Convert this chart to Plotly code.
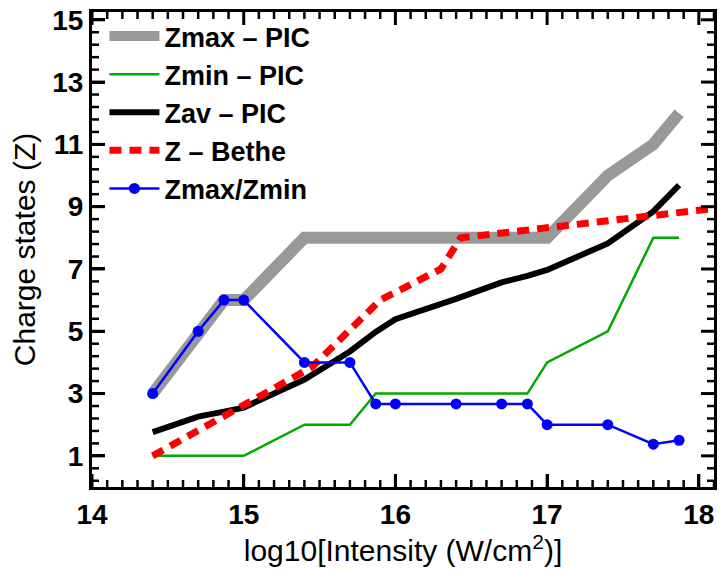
import plotly.graph_objects as go

# log10 of laser intensity (W/cm^2) for the PIC runs
log_intensity = [14.4, 14.7, 14.87, 15.0, 15.4, 15.7, 15.87, 16.0,
                 16.4, 16.7, 16.87, 17.0, 17.4, 17.7, 17.87]

z_max = [3, 5, 6, 6, 8, 8, 8, 8, 8, 8, 8, 8, 10, 11, 12]
z_min = [1, 1, 1, 1, 2, 2, 3, 3, 3, 3, 3, 4, 5, 8, 8]
z_av = [1.76, 2.26, 2.42, 2.55, 3.45, 4.35, 4.98, 5.39,
        6.04, 6.57, 6.78, 6.97, 7.82, 8.85, 9.69]
z_ratio = [mx / mn for mx, mn in zip(z_max, z_min)]

# barrier-suppression (Bethe) estimate
bethe_x = [14.4, 15.45, 15.9, 16.3, 16.43, 18.15]
bethe_z = [1.0, 3.85, 6.0, 7.0, 8.0, 8.97]

X_RANGE = [14, 18.1]
Y_RANGE = [0, 15.25]
x_major = [14, 15, 16, 17, 18]
y_major = [1, 3, 5, 7, 9, 11, 13, 15]
X_MINOR_STEP = 0.1
Y_MINOR_STEP = 0.4

FONT = "Liberation Sans, Arial, Helvetica, sans-serif"

fig = go.Figure()
fig.add_trace(go.Scatter(x=log_intensity, y=z_max, mode="lines", name="Zmax – PIC",
                         line=dict(color="#999999", width=12)))
fig.add_trace(go.Scatter(x=log_intensity, y=z_min, mode="lines", name="Zmin – PIC",
                         line=dict(color="#00aa00", width=2.5)))
fig.add_trace(go.Scatter(x=log_intensity, y=z_av, mode="lines", name="Zav – PIC",
                         line=dict(color="black", width=6)))
fig.add_trace(go.Scatter(x=bethe_x, y=bethe_z, mode="lines", name="Z – Bethe",
                         line=dict(color="#ff0000", width=7, dash="12px,8px")))
fig.add_trace(go.Scatter(x=log_intensity, y=z_ratio, mode="lines+markers", name="Zmax/Zmin",
                         line=dict(color="#0000ff", width=2.5),
                         marker=dict(color="#0000ff", size=11)))

axis_common = dict(
    showgrid=False, zeroline=False, showline=True, linecolor="black", linewidth=3,
    mirror=True, ticks="inside", ticklen=13, tickwidth=3, tickcolor="black",
    tickfont=dict(family=FONT, size=28, color="black", weight="bold"),
)

fig.update_xaxes(
    range=X_RANGE, tickmode="array", tickvals=x_major,
    ticktext=[str(v) for v in x_major],
    title=dict(text="log10[Intensity (W/cm<sup>2</sup>)]",
               font=dict(family=FONT, size=30, color="black"), standoff=6),
    **axis_common,
)
fig.update_yaxes(
    range=Y_RANGE, tickmode="array", tickvals=y_major,
    ticktext=[str(v) for v in y_major],
    title=dict(text="Charge states (Z)",
               font=dict(family=FONT, size=30, color="black"), standoff=8),
    **axis_common,
)


# inward tick marks on all four sides of the frame, placed on the data scales
def is_major(v, majors):
    return any(abs(v - m) < 1e-6 for m in majors)


x_minor = [round(X_RANGE[0] + k * X_MINOR_STEP, 3)
           for k in range(int(round((X_RANGE[1] - X_RANGE[0]) / X_MINOR_STEP)) + 1)]
x_minor = [v for v in x_minor if not is_major(v, x_major)]
y_minor = [round(y_major[0] + k * Y_MINOR_STEP, 3) for k in range(-3, 40)]
y_minor = [v for v in y_minor
           if Y_RANGE[0] < v < Y_RANGE[1] and not is_major(v, y_major)]

tick_shapes = []
for vals, length, width in ((x_major, 13, 3), (x_minor, 7, 2.5)):
    for v in vals:
        for anchor, sign in ((0, 1), (1, -1)):
            tick_shapes.append(dict(
                type="line", xref="x", yref="paper", ysizemode="pixel",
                yanchor=anchor, x0=v, x1=v, y0=0, y1=sign * length,
                line=dict(color="black", width=width), layer="above"))
for vals, length, width in ((y_major, 13, 3), (y_minor, 7, 2.5)):
    for v in vals:
        for anchor, sign in ((0, 1), (1, -1)):
            tick_shapes.append(dict(
                type="line", xref="paper", yref="y", xsizemode="pixel",
                xanchor=anchor, y0=v, y1=v, x0=0, x1=sign * length,
                line=dict(color="black", width=width), layer="above"))

fig.update_layout(
    shapes=tick_shapes,
    width=722, height=571,
    margin=dict(l=92, r=5, t=6, b=84),
    paper_bgcolor="white", plot_bgcolor="white",
    showlegend=True,
    legend=dict(x=0.02, y=1.0, xanchor="left", yanchor="top",
                bgcolor="rgba(0,0,0,0)", borderwidth=0,
                font=dict(family=FONT, size=27, color="black", weight="bold"),
                itemwidth=50, tracegroupgap=0),
)

fig.write_html("out.html")
